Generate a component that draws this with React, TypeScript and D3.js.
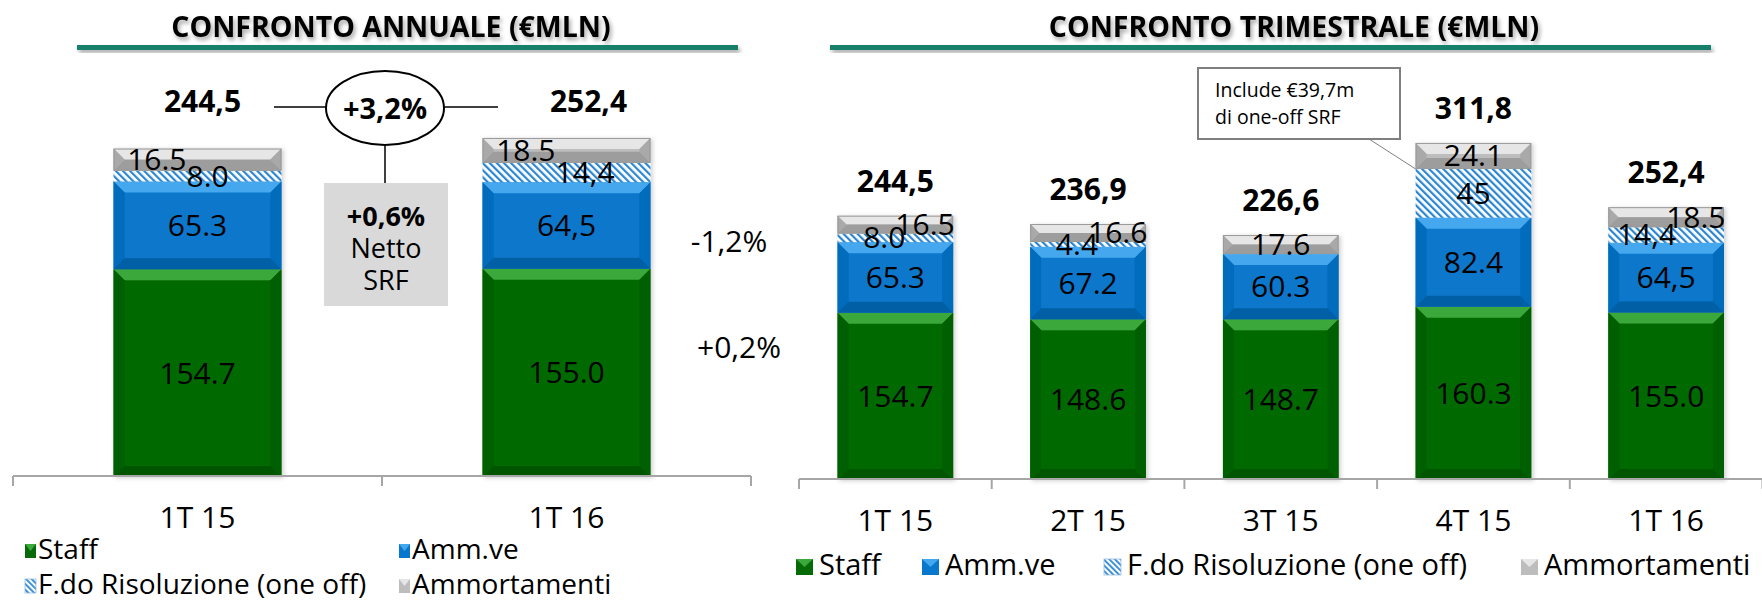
import React from "react";
import * as d3 from "d3";

// ---------- DATA ----------
const seriesKeys = ["staff", "amm", "srf", "ammort"];
const seriesNames = ["Staff", "Amm.ve", "F.do Risoluzione (one off)", "Ammortamenti"];

const annualCategories = ["1T 15", "1T 16"];
const annualStaff = [154.7, 155.0];
const annualAmm = [65.3, 64.5];
const annualSrf = [8.0, 14.4];
const annualAmmort = [16.5, 18.5];
const annualStaffLabels = ["154.7", "155.0"];
const annualAmmLabels = ["65.3", "64,5"];
const annualSrfLabels = ["8.0", "14,4"];
const annualAmmortLabels = ["16.5", "18.5"];
const annualTotals = ["244,5", "252,4"];

const quarterCategories = ["1T 15", "2T 15", "3T 15", "4T 15", "1T 16"];
const quarterStaff = [154.7, 148.6, 148.7, 160.3, 155.0];
const quarterAmm = [65.3, 67.2, 60.3, 82.4, 64.5];
const quarterSrf = [8.0, 4.4, 0, 45, 14.4];
const quarterAmmort = [16.5, 16.6, 17.6, 24.1, 18.5];
const quarterStaffLabels = ["154.7", "148.6", "148.7", "160.3", "155.0"];
const quarterAmmLabels = ["65.3", "67.2", "60.3", "82.4", "64,5"];
const quarterSrfLabels = ["8.0", "4.4", "", "45", "14,4"];
const quarterAmmortLabels = ["16.5", "16.6", "17.6", "24.1", "18.5"];
const quarterTotals = ["244,5", "236,9", "226,6", "311,8", "252,4"];

const annualTitle = "CONFRONTO ANNUALE (€MLN)";
const quarterTitle = "CONFRONTO TRIMESTRALE (€MLN)";
const yoyChange = "+3,2%";
const netChange = ["+0,6%", "Netto", "SRF"];
const ammChange = "-1,2%";
const staffChange = "+0,2%";
const calloutLines = ["Include €39,7m", "di one-off SRF"];

// ---------- STYLE / LAYOUT ----------
const FONT = "'Open Sans', 'DejaVu Sans', sans-serif";
const W = 1762;
const H = 603;
const annualTotalDx = [5, 22];

const palette: Record<string, { base: string; top: string; side: string; bottom: string }> = {
  staff: { base: "#066a06", top: "#3aa83a", side: "#055f05", bottom: "#045404" },
  amm: { base: "#0877cc", top: "#45a8ef", side: "#066cbb", bottom: "#055fa5" },
  ammort: { base: "#bdbdbd", top: "#e6e6e6", side: "#a9a9a9", bottom: "#9d9d9d" },
};

function Bevel({ x, y, w, h, k }: { x: number; y: number; w: number; h: number; k: string }) {
  if (k === "srf") {
    return <rect x={x} y={y} width={w} height={h} fill="url(#hatch)" />;
  }
  const c = palette[k];
  const d = Math.min(11, h / 2, w / 2);
  const x1 = x + w;
  const y1 = y + h;
  return (
    <g>
      <rect x={x} y={y} width={w} height={h} fill={c.base} />
      <polygon points={`${x},${y} ${x1},${y} ${x1 - d},${y + d} ${x + d},${y + d}`} fill={c.top} />
      <polygon points={`${x},${y} ${x + d},${y + d} ${x + d},${y1 - d} ${x},${y1}`} fill={c.side} />
      <polygon points={`${x1},${y} ${x1 - d},${y + d} ${x1 - d},${y1 - d} ${x1},${y1}`} fill={c.side} />
      <polygon points={`${x},${y1} ${x + d},${y1 - d} ${x1 - d},${y1 - d} ${x1},${y1}`} fill={c.bottom} />
      {k === "ammort" && <rect x={x + 0.5} y={y + 0.5} width={w - 1} height={h - 1} fill="none" stroke="#9a9a9a" strokeWidth={1} />}
    </g>
  );
}

function buildRows(cats: string[], a: number[], b: number[], c: number[], d: number[]) {
  return cats.map((cat, i) => ({ cat, staff: a[i], amm: b[i], srf: c[i], ammort: d[i] }));
}

function Marker({ k, x, y, w, h }: { k: string; x: number; y: number; w: number; h: number }) {
  if (k === "srf") {
    return <rect x={x} y={y} width={w} height={h} fill="url(#hatchSmall)" stroke="#9bbbe0" strokeWidth={0.8} />;
  }
  const c = palette[k];
  return (
    <g>
      <rect x={x} y={y} width={w} height={h} fill={c.base} />
      <polygon points={`${x},${y} ${x + w},${y} ${x + w / 2},${y + h / 2}`} fill={c.top} />
    </g>
  );
}

export default function App() {
  // ----- scales -----
  const xL = d3.scaleBand<string>().domain(annualCategories).range([13, 751]).padding(0);
  const yL = d3.scaleLinear().domain([0, 300]).range([477, 74]);
  const bwL = xL.bandwidth() * 0.455;

  const xR = d3.scaleBand<string>().domain(quarterCategories).range([799, 1762.5]).padding(0);
  const yR = d3.scaleLinear().domain([0, 300]).range([480, 155.7]);
  const bwR = xR.bandwidth() * 0.6;

  const stack = d3.stack<any>().keys(seriesKeys);
  const annualRows = buildRows(annualCategories, annualStaff, annualAmm, annualSrf, annualAmmort);
  const quarterRows = buildRows(quarterCategories, quarterStaff, quarterAmm, quarterSrf, quarterAmmort);
  const sL = stack(annualRows);
  const sR = stack(quarterRows);

  const labelsL: Record<string, string[]> = {
    staff: annualStaffLabels, amm: annualAmmLabels, srf: annualSrfLabels, ammort: annualAmmortLabels,
  };
  const labelsR: Record<string, string[]> = {
    staff: quarterStaffLabels, amm: quarterAmmLabels, srf: quarterSrfLabels, ammort: quarterAmmortLabels,
  };

  const renderBars = (
    st: any[],
    x: d3.ScaleBand<string>,
    y: d3.ScaleLinear<number, number>,
    bw: number,
    labels: Record<string, string[]>,
    panel: "L" | "R"
  ) => {
    const marks: any[] = [];
    const texts: any[] = [];
    st.forEach((layer: any) => {
      const k = layer.key as string;
      layer.forEach((dd: any, i: number) => {
        const v = dd[1] - dd[0];
        if (v <= 0) return;
        const cx = (x(dd.data.cat) as number) + x.bandwidth() / 2;
        const yt = y(dd[1]);
        const yb = y(dd[0]);
        marks.push(<Bevel key={`${k}-${i}`} k={k} x={cx - bw / 2} y={yt} w={bw} h={yb - yt} />);
        const txt = labels[k][i];
        if (!txt) return;
        let tx = cx;
        let anchor = "middle";
        const srf = dd.data.srf;
        if (panel === "L") {
          if (k === "ammort") { tx = cx - 11; anchor = "end"; }
          if (k === "srf") { tx = cx - 11; anchor = "start"; }
        } else {
          if (k === "srf" && v < 20) { tx = cx + 10; anchor = "end"; }
          if (k === "ammort" && srf > 0 && srf < 20) { tx = cx; anchor = "start"; }
        }
        texts.push(
          <text key={`t-${k}-${i}`} x={tx} y={(yt + yb) / 2 + 10.5} textAnchor={anchor} fontSize={30} fill="#000" fontFamily={FONT}>
            {txt}
          </text>
        );
      });
    });
    return { marks, texts };
  };

  const barsL = renderBars(sL, xL, yL, bwL, labelsL, "L");
  const barsR = renderBars(sR, xR, yR, bwR, labelsR, "R");

  const axis = (x: d3.ScaleBand<string>, y0: number, tickLen: number, key: string, labelY: number) => {
    const [r0, r1] = x.range();
    const ticks = [...x.domain().map((c) => x(c) as number), r1];
    return (
      <g key={key}>
        <line x1={r0} x2={Math.min(r1, W)} y1={y0} y2={y0} stroke="#a6a6a6" strokeWidth={2} />
        {ticks.map((t, i) => (
          <line key={i} x1={t} x2={t} y1={y0} y2={y0 + tickLen} stroke="#a6a6a6" strokeWidth={2} />
        ))}
        {x.domain().map((c) => (
          <text key={c} x={(x(c) as number) + x.bandwidth() / 2} y={labelY} textAnchor="middle" fontSize={30} fontFamily={FONT} fill="#000">
            {c}
          </text>
        ))}
      </g>
    );
  };

  // callout leader endpoint (4T 15 bar, top of SRF segment)
  const q4 = quarterRows[3];
  const q4x = (xR(q4.cat) as number) + xR.bandwidth() / 2 - bwR / 2;
  const q4y = yR(q4.staff + q4.amm + q4.srf);

  // left legend layout
  const legendL = [
    { x: 25, y: 559 },
    { x: 399, y: 559 },
    { x: 25, y: 594 },
    { x: 399, y: 594 },
  ];
  const legendRX = [796, 922, 1104, 1521];

  return (
    <svg width={W} height={H} style={{ position: "absolute", left: 0, top: 0, background: "#fff" }} xmlns="http://www.w3.org/2000/svg">
      <defs>
        <pattern id="hatch" patternUnits="userSpaceOnUse" width={5} height={5} patternTransform="rotate(-45)">
          <rect width={5} height={5} fill="#ffffff" />
          <rect width={2.2} height={5} fill="#2a86d0" />
        </pattern>
        <pattern id="hatchSmall" patternUnits="userSpaceOnUse" width={4} height={4} patternTransform="rotate(-45)">
          <rect width={4} height={4} fill="#ffffff" />
          <rect width={1.8} height={4} fill="#2a86d0" />
        </pattern>
        <filter id="tshadow" x="-10%" y="-30%" width="120%" height="180%">
          <feDropShadow dx={2} dy={3} stdDeviation={2} floodColor="#000" floodOpacity={0.35} />
        </filter>
        <filter id="bshadow" x="-10%" y="-10%" width="125%" height="125%">
          <feDropShadow dx={2} dy={1} stdDeviation={2} floodColor="#000" floodOpacity={0.18} />
        </filter>
      </defs>

      {/* Titles */}
      <text x={391} y={37} textAnchor="middle" fontSize={28.5} fontWeight="bold" fontFamily={FONT} fill="#000" filter="url(#tshadow)">
        {annualTitle}
      </text>
      <rect x={77} y={45} width={661} height={5} fill="#17806a" filter="url(#tshadow)" />
      <text x={1294} y={37} textAnchor="middle" fontSize={28.5} fontWeight="bold" fontFamily={FONT} fill="#000" filter="url(#tshadow)">
        {quarterTitle}
      </text>
      <rect x={830} y={45} width={881} height={5} fill="#17806a" filter="url(#tshadow)" />

      {/* Left panel */}
      <g filter="url(#bshadow)">{barsL.marks}</g>
      {axis(xL, 476, 10, "axL", 528)}
      {barsL.texts}
      {annualCategories.map((c, i) => (
        <text key={c} x={(xL(c) as number) + xL.bandwidth() / 2 + annualTotalDx[i]} y={112} textAnchor="middle" fontSize={30} fontWeight="bold" fontFamily={FONT}>
          {annualTotals[i]}
        </text>
      ))}
      <line x1={274} x2={327} y1={107} y2={107} stroke="#000" strokeWidth={1.5} />
      <line x1={444} x2={498} y1={107} y2={107} stroke="#000" strokeWidth={1.5} />
      <line x1={385} x2={385} y1={145} y2={186} stroke="#000" strokeWidth={1.5} />
      <ellipse cx={385} cy={108} rx={59} ry={37} fill="#fff" stroke="#000" strokeWidth={2} />
      <text x={385} y={119} textAnchor="middle" fontSize={29} fontWeight="bold" fontFamily={FONT}>{yoyChange}</text>
      <rect x={324} y={183} width={124} height={123} fill="#d9d9d9" />
      <text x={386} y={226} textAnchor="middle" fontSize={27} fontWeight="bold" fontFamily={FONT}>{netChange[0]}</text>
      <text x={386} y={258} textAnchor="middle" fontSize={27} fontFamily={FONT}>{netChange[1]}</text>
      <text x={386} y={290} textAnchor="middle" fontSize={27} fontFamily={FONT}>{netChange[2]}</text>
      <text x={729} y={252} textAnchor="middle" fontSize={30} fontFamily={FONT}>{ammChange}</text>
      <text x={739} y={358} textAnchor="middle" fontSize={30} fontFamily={FONT}>{staffChange}</text>

      {/* Left legend */}
      {seriesKeys.map((k, i) => (
        <g key={k}>
          <Marker k={k} x={legendL[i].x} y={legendL[i].y - 15} w={11} h={14} />
          <text x={legendL[i].x + 13} y={legendL[i].y} fontSize={28} fontFamily={FONT}>{seriesNames[i]}</text>
        </g>
      ))}

      {/* Right panel */}
      <g filter="url(#bshadow)">{barsR.marks}</g>
      {axis(xR, 479, 10, "axR", 531)}
      {barsR.texts}
      {quarterCategories.map((c, i) => {
        const r = quarterRows[i];
        const tot = r.staff + r.amm + r.srf + r.ammort;
        return (
          <text key={c} x={(xR(c) as number) + xR.bandwidth() / 2} y={yR(tot) - 24} textAnchor="middle" fontSize={30} fontWeight="bold" fontFamily={FONT}>
            {quarterTotals[i]}
          </text>
        );
      })}
      <line x1={1369} y1={139} x2={q4x} y2={q4y} stroke="#808080" strokeWidth={1} />
      <rect x={1198} y={68} width={202} height={71} fill="#fff" stroke="#7f7f7f" strokeWidth={2} />
      <text x={1215} y={97} fontSize={19.5} fontFamily={FONT}>{calloutLines[0]}</text>
      <text x={1215} y={124} fontSize={19.5} fontFamily={FONT}>{calloutLines[1]}</text>

      {/* Right legend */}
      {seriesKeys.map((k, i) => (
        <g key={k}>
          <Marker k={k} x={legendRX[i]} y={559} w={17} h={16} />
          <text x={legendRX[i] + 23} y={575} fontSize={29} fontFamily={FONT}>{seriesNames[i]}</text>
        </g>
      ))}
    </svg>
  );
}
